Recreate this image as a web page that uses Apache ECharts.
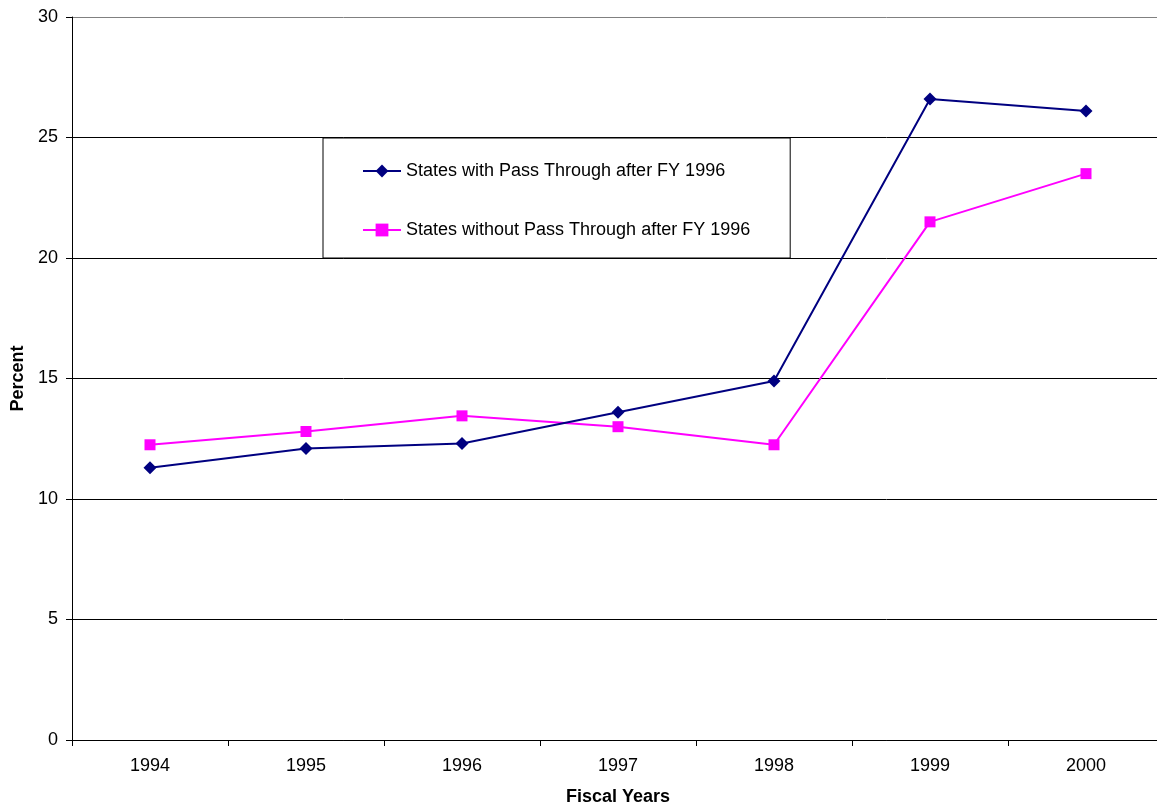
<!DOCTYPE html>
<html>
<head>
<meta charset="utf-8">
<script src="https://cdn.jsdelivr.net/npm/echarts@6/dist/echarts.min.js"></script>
<style>
  html, body { margin: 0; padding: 0; background: #fff; }
  #chart { width: 1157px; height: 806px; }
</style>
</head>
<body>
<div id="chart"></div>
<script>
// Fiscal years on the category axis
const years = ['1994', '1995', '1996', '1997', '1998', '1999', '2000'];

// Percent values per year
const withPassThrough = [11.3, 12.1, 12.3, 13.6, 14.9, 26.6, 26.1];
const withoutPassThrough = [12.25, 12.8, 13.45, 13.0, 12.25, 21.5, 23.5];

const seriesNames = [
  'States with Pass Through after FY 1996',
  'States without Pass Through after FY 1996'
];

const font = 'Arial, "Liberation Sans", sans-serif';

const chart = echarts.init(document.getElementById('chart'), null, { renderer: 'canvas' });

chart.setOption({
  animation: false,
  backgroundColor: '#ffffff',
  textStyle: { fontFamily: font },
  grid: {
    left: 72, top: 17, right: -7, bottom: 66,
    containLabel: false,
    outerBoundsMode: 'none'
  },
  legend: {
    orient: 'vertical',
    left: 323,
    top: 138,
    padding: [23, 40, 18, 39],
    itemGap: 39,
    itemWidth: 38,
    itemHeight: 16,
    backgroundColor: '#ffffff',
    borderColor: '#000000',
    borderWidth: 1,
    textStyle: { fontFamily: font, fontSize: 18, color: '#000000', lineHeight: 20 },
    data: seriesNames
  },
  xAxis: {
    type: 'category',
    data: years,
    boundaryGap: true,
    name: 'Fiscal Years',
    nameLocation: 'middle',
    nameGap: 48,
    nameTextStyle: { fontFamily: font, fontSize: 18, fontWeight: 'bold', color: '#000' },
    axisLine: { show: true, lineStyle: { color: '#000', width: 1 } },
    axisTick: { show: true, length: 6, alignWithLabel: false, lineStyle: { color: '#000' } },
    axisLabel: { fontFamily: font, fontSize: 18, color: '#000', margin: 17 },
    splitLine: { show: false }
  },
  yAxis: {
    type: 'value',
    min: 0,
    max: 30,
    interval: 5,
    name: 'Percent',
    nameLocation: 'middle',
    nameGap: 44,
    nameRotate: 90,
    nameTextStyle: { fontFamily: font, fontSize: 18, fontWeight: 'bold', color: '#000' },
    axisLine: { show: true, lineStyle: { color: '#000', width: 1 } },
    axisTick: { show: true, length: 6, lineStyle: { color: '#000' } },
    axisLabel: { fontFamily: font, fontSize: 18, color: '#000', margin: 14 },
    splitLine: {
      show: true,
      lineStyle: {
        color: ['#000', '#000', '#000', '#000', '#000', '#000', '#808080'],
        width: 1
      }
    }
  },
  series: [
    {
      name: seriesNames[0],
      type: 'line',
      data: withPassThrough,
      symbol: 'diamond',
      symbolSize: 13,
      lineStyle: { color: '#000080', width: 2 },
      itemStyle: { color: '#000080' },
      z: 3
    },
    {
      name: seriesNames[1],
      type: 'line',
      data: withoutPassThrough,
      symbol: 'rect',
      symbolSize: 11,
      lineStyle: { color: '#ff00ff', width: 2 },
      itemStyle: { color: '#ff00ff' },
      z: 2
    }
  ]
});
</script>
</body>
</html>
